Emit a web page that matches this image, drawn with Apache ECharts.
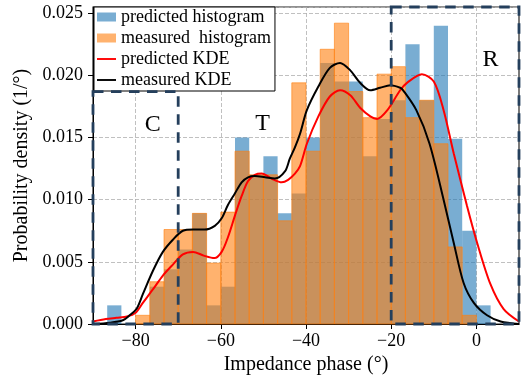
<!DOCTYPE html>
<html>
<head>
<meta charset="utf-8">
<script src="https://cdn.jsdelivr.net/npm/echarts@6/dist/echarts.min.js"></script>
<style>
  html, body { margin: 0; padding: 0; background: #fff; }
  #chart { width: 532px; height: 381px; }
</style>
</head>
<body>
<div id="chart"></div>
<script>
// histogram: 30 bins of 10/3 degrees, from -90 to 10
const BIN_START = -90;
const BIN_WIDTH = 10 / 3;
const predictedHist = [
  0, 0.0015, 0, 0, 0.0030, 0.0044, 0.0060, 0.0089, 0.0015, 0.0030,
  0.0150, 0.0120, 0.0135, 0.0089, 0.0105, 0.0150, 0.0210, 0.0195, 0.0195, 0.0135,
  0.0165, 0.0180, 0.0225, 0.0180, 0.0240, 0.0149, 0.0075, 0.0015, 0, 0
];
const measuredHist = [
  0, 0, 0, 0.0007, 0.0034, 0.0076, 0.0076, 0.0089, 0.0049, 0.0090,
  0.0139, 0.0120, 0.0120, 0.0083, 0.0194, 0.0139, 0.0221, 0.0242, 0.0187, 0.0166,
  0.0201, 0.0207, 0.0166, 0.0180, 0.0145, 0.0062, 0.0007, 0, 0, 0
];

// KDE curves
const predKdeX = [-90, -87, -84.5, -82, -80, -78.3, -75.9, -73.6, -71.2, -68.9, -66.5, -64, -61.5, -59.8,
  -58.3, -56.7, -55.1, -53.6, -52, -50.4, -48.1, -45.7, -44.2, -42.6, -41.4, -39.8, -37.1, -34.4, -32,
  -29.6, -27.3, -24.9, -23.3, -20.9, -17.9, -16.3, -12.8, -10, -7.7, -5.3, -2.2, 0.2, 3.3, 6.4, 10];
const predKdeY = [0.0002, 0.0004, 0.0005, 0.0006, 0.0009, 0.0017, 0.0028, 0.0039, 0.0048, 0.0056, 0.0058, 0.0055, 0.0053, 0.0058,
  0.0070, 0.0087, 0.0103, 0.0115, 0.0120, 0.0121, 0.0117, 0.0114, 0.0116, 0.0121, 0.0127, 0.0145, 0.0167, 0.0183, 0.0188,
  0.0184, 0.0174, 0.0167, 0.0165, 0.0172, 0.0188, 0.0194, 0.0201, 0.0195, 0.0172, 0.0137, 0.0095, 0.0065, 0.0032, 0.0012, 0.0002];
const measKdeX = [-90, -86, -83, -81.4, -79.8, -78.3, -75.9, -73.6, -71.2, -68.9, -66.5, -63.8, -61.4, -59.8,
  -58.3, -56.7, -55.1, -53.6, -52, -49.6, -47.3, -44.9, -43.8, -42.6, -41.4, -39.8, -37.1, -34.4, -32,
  -29.6, -27.3, -24.9, -22.6, -20.2, -17.9, -17.2, -14.1, -11, -7.7, -5.3, -3, -0.6, 2.5, 5.7, 10];
const measKdeY = [0, 0.0001, 0.0003, 0.0007, 0.0012, 0.0024, 0.0043, 0.0058, 0.0068, 0.0075, 0.0076, 0.0076, 0.0079, 0.0085,
  0.0096, 0.0105, 0.0114, 0.0118, 0.0119, 0.0118, 0.0117, 0.0123, 0.0133, 0.0142, 0.0153, 0.0172, 0.0191, 0.0206, 0.0210,
  0.0204, 0.0194, 0.0188, 0.0190, 0.0192, 0.0190, 0.0188, 0.0172, 0.0145, 0.0100, 0.0065, 0.0033, 0.0017, 0.0007, 0.0002, 0];

const xTicks = [-80, -60, -40, -20, 0];

// dashed regions [x0, y0, x1, y1] and their letters
const regionBoxes = [[-90, 0, -70, 0.0187], [-20, 0, 10, 0.0255]];
const regionLabels = [['C', -76, 0.0160], ['T', -50.2, 0.0161], ['R', 3.3, 0.0213]];

const SERIF = '"Liberation Serif", "DejaVu Serif", serif';
const LINE_ICON = 'path://M0,0L20,0L20,2L0,2Z';

const histData = (vals) => vals.map((v, i) => [BIN_START + i * BIN_WIDTH, BIN_START + (i + 1) * BIN_WIDTH, v]);
const zip = (xs, ys) => xs.map((x, i) => [x, ys[i]]);
const tickFmt = (v) => (v < 0 ? '\u2212' + Math.abs(v) : String(v));

function histItem(color, edge) {
  return (params, api) => {
    const h = api.value(2);
    if (!h) return null;
    const p0 = api.coord([api.value(0), h]);
    const p1 = api.coord([api.value(1), 0]);
    return {
      type: 'rect',
      shape: { x: p0[0], y: p0[1], width: p1[0] - p0[0], height: p1[1] - p0[1] },
      style: { fill: color, stroke: edge ? color : null, lineWidth: edge ? 1 : 0, opacity: 0.6 },
    };
  };
}

const chart = echarts.init(document.getElementById('chart'), null, { renderer: 'canvas' });
chart.setOption({
  animation: false,
  backgroundColor: '#fff',
  grid: { left: 93, right: 13, top: 7, bottom: 57, show: true, borderColor: '#222', borderWidth: 1.2, backgroundColor: 'transparent' },
  legend: {
    left: 94, top: 7, orient: 'vertical',
    itemWidth: 19, itemHeight: 9, itemGap: 3,
    padding: [1, 4, 2, 3],
    backgroundColor: '#fff', borderColor: '#000', borderWidth: 1,
    textStyle: { fontFamily: SERIF, fontSize: 18, color: '#000' },
    data: [
      { name: 'predicted histogram', icon: 'rect', itemStyle: { color: '#79add2', opacity: 1 } },
      { name: 'measured  histogram', icon: 'rect', itemStyle: { color: '#ffb26e', opacity: 1 } },
      { name: 'predicted KDE', icon: LINE_ICON, itemStyle: { color: '#ff0000', opacity: 1 } },
      { name: 'measured KDE', icon: LINE_ICON, itemStyle: { color: '#000000', opacity: 1 } },
    ],
  },
  xAxis: {
    type: 'value', min: -90, max: 10,
    name: 'Impedance phase (°)', nameLocation: 'middle', nameGap: 31,
    nameTextStyle: { fontFamily: SERIF, fontSize: 20, color: '#000' },
    axisLine: { show: true, onZero: false, lineStyle: { color: '#000', width: 1 } },
    axisTick: { show: true, length: 5, customValues: xTicks, lineStyle: { color: '#000' } },
    axisLabel: { fontFamily: SERIF, fontSize: 18, color: '#000', margin: 8, customValues: xTicks, formatter: tickFmt },
    splitLine: { show: true, lineStyle: { color: '#b0b0b0', width: 0.8, type: [4, 2] } },
  },
  yAxis: {
    type: 'value', min: 0, max: 0.0255, interval: 0.005,
    name: 'Probability density (1/°)', nameLocation: 'middle', nameGap: 56,
    nameTextStyle: { fontFamily: SERIF, fontSize: 20, color: '#000' },
    axisLine: { show: true, onZero: false, lineStyle: { color: '#000', width: 1 } },
    axisTick: { show: true, length: 5, lineStyle: { color: '#000' } },
    axisLabel: { fontFamily: SERIF, fontSize: 18, color: '#000', margin: 10, showMaxLabel: false, formatter: (v) => v.toFixed(3) },
    splitLine: { show: true, lineStyle: { color: '#b0b0b0', width: 0.8, type: [4, 2] } },
  },
  series: [
    {
      name: 'predicted histogram', type: 'custom', data: histData(predictedHist),
      encode: { x: [0, 1], y: 2 }, itemStyle: { color: '#1f77b4' },
      renderItem: histItem('#1f77b4', false),
    },
    {
      name: 'measured  histogram', type: 'custom', data: histData(measuredHist),
      encode: { x: [0, 1], y: 2 }, itemStyle: { color: '#ff7f0e' },
      renderItem: histItem('#ff7f0e', true),
    },
    {
      name: 'predicted KDE', type: 'line', data: zip(predKdeX, predKdeY), smooth: 0.3,
      symbol: 'none', itemStyle: { color: '#ff0000' }, lineStyle: { color: '#ff0000', width: 2 },
    },
    {
      name: 'measured KDE', type: 'line', data: zip(measKdeX, measKdeY), smooth: 0.3,
      symbol: 'none', itemStyle: { color: '#000000' }, lineStyle: { color: '#000000', width: 2 },
    },
    {
      type: 'custom', data: regionBoxes, silent: true, z: 5,
      encode: { x: [0, 2], y: [1, 3] },
      renderItem: (params, api) => {
        const p0 = api.coord([api.value(0), api.value(3)]);
        const p1 = api.coord([api.value(2), api.value(1)]);
        return {
          type: 'rect',
          shape: { x: p0[0], y: p0[1], width: p1[0] - p0[0], height: p1[1] - p0[1] },
          style: { fill: null, stroke: '#243f5c', lineWidth: 2.8, lineDash: [10.5, 7.5] },
        };
      },
    },
    {
      type: 'custom', data: regionLabels.map((r) => [r[1], r[2], r[0]]), silent: true, z: 6,
      encode: { x: 0, y: 1 },
      renderItem: (params, api) => {
        const p = api.coord([api.value(0), api.value(1)]);
        return {
          type: 'text', x: p[0], y: p[1],
          style: { text: regionLabels[params.dataIndex][0], font: '24px ' + SERIF, fill: '#000', align: 'center', verticalAlign: 'middle' },
        };
      },
    },
  ],
});
</script>
</body>
</html>
